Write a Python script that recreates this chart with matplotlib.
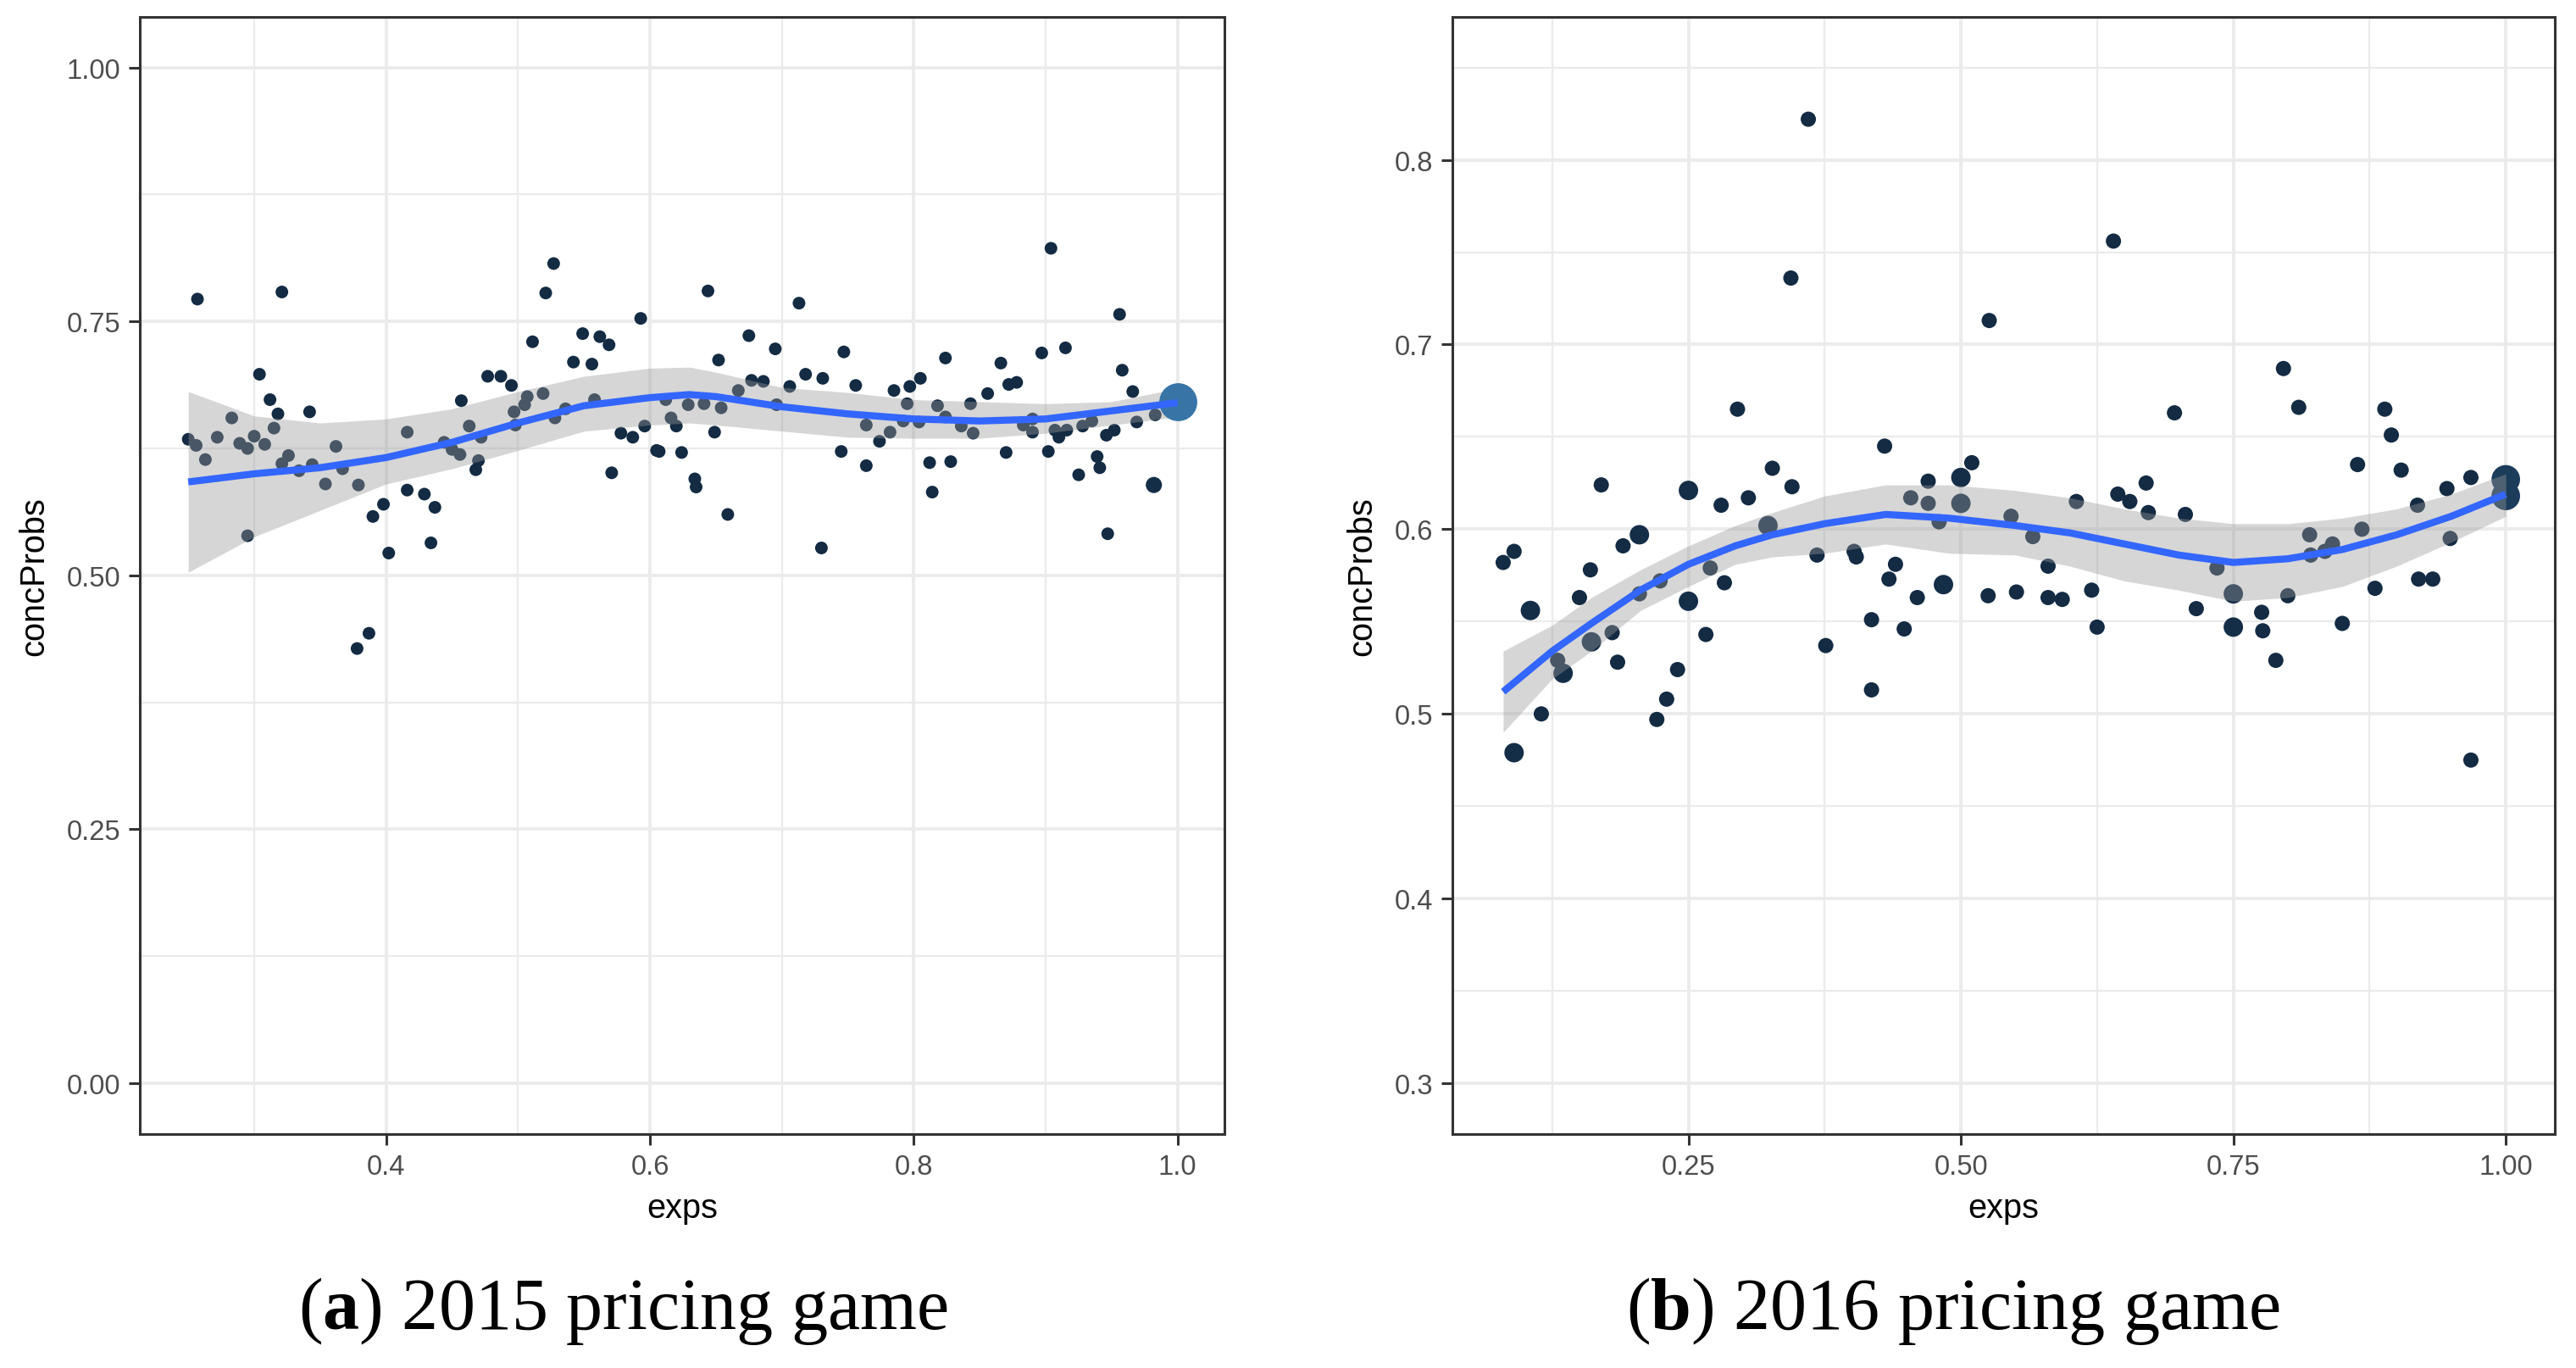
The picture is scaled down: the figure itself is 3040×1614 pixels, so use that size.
import numpy as np
import matplotlib
matplotlib.use("Agg")
import matplotlib.pyplot as plt
from matplotlib.ticker import FixedLocator

plt.rcParams['font.family'] = ['Liberation Sans', 'DejaVu Sans']
plt.rcParams['mathtext.fontset'] = 'custom'
plt.rcParams['mathtext.rm'] = 'Liberation Serif'
plt.rcParams['mathtext.bf'] = 'Liberation Serif:bold'

# ---------------- data: 2015 pricing game ----------------
x2015 = [0.257, 0.321, 0.527, 0.521, 0.644, 0.593, 0.511, 0.549, 0.562, 0.569,
         0.652, 0.542, 0.556, 0.304, 0.477, 0.487, 0.495, 0.312, 0.507, 0.519,
         0.457, 0.505, 0.318, 0.342, 0.283, 0.536, 0.497, 0.558, 0.528, 0.315,
         0.463, 0.498, 0.596, 0.578, 0.587, 0.649, 0.612, 0.629, 0.641, 0.654,
         0.616, 0.620, 0.250, 0.256, 0.272, 0.300, 0.289, 0.295, 0.308, 0.416,
         0.362, 0.472, 0.263, 0.326, 0.321, 0.334, 0.344, 0.367, 0.444, 0.450,
         0.456, 0.470, 0.468, 0.605, 0.607, 0.624, 0.571, 0.634, 0.635, 0.354,
         0.379, 0.416, 0.429, 0.398, 0.390, 0.437, 0.295, 0.434, 0.402, 0.387,
         0.378,
         0.904, 0.713, 0.956, 0.675, 0.695, 0.747, 0.824, 0.915, 0.897, 0.866,
         0.958, 0.718, 0.731, 0.677, 0.686, 0.756, 0.785, 0.797, 0.805, 0.872,
         0.878, 0.856, 0.966, 0.667, 0.706, 0.696, 0.795, 0.818, 0.843, 0.824,
         0.764, 0.792, 0.804, 0.782, 0.774, 0.836, 0.845, 0.890, 0.883, 0.890,
         0.907, 0.916, 0.910, 0.928, 0.935, 0.952, 0.946, 0.969, 0.983, 0.745,
         0.764, 0.812, 0.828, 0.870, 0.902, 0.939, 0.941, 0.925, 0.814, 0.982,
         0.659, 0.730, 0.947, 1.000]
y2015 = [0.772, 0.779, 0.807, 0.778, 0.780, 0.753, 0.730, 0.738, 0.735, 0.727,
         0.712, 0.710, 0.708, 0.698, 0.696, 0.696, 0.687, 0.673, 0.676, 0.679,
         0.672, 0.668, 0.659, 0.661, 0.655, 0.664, 0.661, 0.673, 0.655, 0.645,
         0.647, 0.648, 0.647, 0.640, 0.636, 0.641, 0.673, 0.668, 0.669, 0.665,
         0.655, 0.647, 0.634, 0.628, 0.636, 0.637, 0.630, 0.625, 0.629, 0.641,
         0.627, 0.636, 0.614, 0.618, 0.610, 0.603, 0.609, 0.605, 0.631, 0.624,
         0.619, 0.613, 0.604, 0.623, 0.622, 0.621, 0.601, 0.595, 0.587, 0.590,
         0.589, 0.584, 0.580, 0.570, 0.558, 0.567, 0.539, 0.532, 0.522, 0.443,
         0.428,
         0.822, 0.768, 0.757, 0.736, 0.723, 0.720, 0.714, 0.724, 0.719, 0.709,
         0.702, 0.698, 0.694, 0.692, 0.691, 0.687, 0.682, 0.686, 0.694, 0.688,
         0.690, 0.679, 0.681, 0.682, 0.686, 0.668, 0.669, 0.667, 0.669, 0.656,
         0.648, 0.652, 0.651, 0.641, 0.632, 0.647, 0.640, 0.654, 0.648, 0.641,
         0.643, 0.643, 0.636, 0.647, 0.652, 0.643, 0.638, 0.651, 0.658, 0.622,
         0.608, 0.611, 0.612, 0.621, 0.622, 0.617, 0.606, 0.599, 0.582, 0.589,
         0.560, 0.527, 0.541, 0.671]
# number of coinciding observations behind each point
n2015 = [1] * 81 + [1] * 59 + [2, 1, 1, 1, 23]

# smoother
sx2015 = [0.25, 0.30, 0.35, 0.40, 0.45, 0.50, 0.55, 0.60, 0.63, 0.65, 0.70,
          0.75, 0.80, 0.85, 0.90, 0.95, 1.00]
sy2015 = [0.592, 0.600, 0.606, 0.616, 0.631, 0.650, 0.667, 0.675, 0.678, 0.676,
          0.666, 0.659, 0.654, 0.652, 0.654, 0.662, 0.670]
slo2015 = [0.503, 0.538, 0.564, 0.590, 0.605, 0.623, 0.642, 0.648, 0.650, 0.648,
           0.642, 0.636, 0.635, 0.635, 0.640, 0.648, 0.656]
shi2015 = [0.681, 0.657, 0.650, 0.654, 0.664, 0.681, 0.696, 0.704, 0.705, 0.700,
           0.685, 0.680, 0.673, 0.671, 0.669, 0.671, 0.684]

# ---------------- data: 2016 pricing game ----------------
x2016 = [0.360, 0.344, 0.295, 0.430, 0.327, 0.170, 0.250, 0.345, 0.305, 0.280,
         0.323, 0.470, 0.454, 0.470, 0.480, 0.205, 0.190, 0.090, 0.080, 0.368,
         0.402, 0.404, 0.440, 0.434, 0.160, 0.270, 0.283, 0.224, 0.150, 0.205,
         0.250, 0.484, 0.460, 0.105, 0.418, 0.448, 0.266, 0.180, 0.161, 0.376,
         0.185, 0.130, 0.135, 0.240, 0.418, 0.230, 0.115, 0.221, 0.090,
         0.640, 0.526, 0.796, 0.696, 0.810, 0.889, 0.895, 0.864, 0.904, 0.510,
         0.500, 0.968, 0.946, 1.000, 1.000, 0.644, 0.655, 0.670, 0.672, 0.706,
         0.606, 0.546, 0.500, 0.566, 0.580, 0.919, 0.820, 0.868, 0.841, 0.834,
         0.821, 0.949, 0.735, 0.750, 0.800, 0.525, 0.551, 0.580, 0.593, 0.620,
         0.625, 0.716, 0.750, 0.776, 0.777, 0.789, 0.850, 0.880, 0.920, 0.933,
         0.968]
y2016 = [0.822, 0.736, 0.665, 0.645, 0.633, 0.624, 0.621, 0.623, 0.617, 0.613,
         0.602, 0.626, 0.617, 0.614, 0.604, 0.597, 0.591, 0.588, 0.582, 0.586,
         0.588, 0.585, 0.581, 0.573, 0.578, 0.579, 0.571, 0.572, 0.563, 0.565,
         0.561, 0.570, 0.563, 0.556, 0.551, 0.546, 0.543, 0.544, 0.539, 0.537,
         0.528, 0.529, 0.522, 0.524, 0.513, 0.508, 0.500, 0.497, 0.479,
         0.756, 0.713, 0.687, 0.663, 0.666, 0.665, 0.651, 0.635, 0.632, 0.636,
         0.628, 0.628, 0.622, 0.627, 0.618, 0.619, 0.615, 0.625, 0.609, 0.608,
         0.615, 0.607, 0.614, 0.596, 0.580, 0.613, 0.597, 0.600, 0.592, 0.588,
         0.586, 0.595, 0.579, 0.565, 0.564, 0.564, 0.566, 0.563, 0.562, 0.567,
         0.547, 0.557, 0.547, 0.555, 0.545, 0.529, 0.549, 0.568, 0.573, 0.573,
         0.475]
n2016 = [1, 1, 1, 1, 1, 1, 2, 1, 1, 1,
         2, 1, 1, 1, 1, 2, 1, 1, 1, 1,
         1, 1, 1, 1, 1, 1, 1, 1, 1, 1,
         2, 2, 1, 2, 1, 1, 1, 1, 2, 1,
         1, 1, 2, 1, 1, 1, 1, 1, 2,
         1, 1, 1, 1, 1, 1, 1, 1, 1, 1,
         2, 1, 1, 6, 6, 1, 1, 1, 1, 1,
         1, 1, 2, 1, 1, 1, 1, 1, 1, 1,
         1, 1, 1, 2, 1, 1, 1, 1, 1, 1,
         1, 1, 2, 1, 1, 1, 1, 1, 1, 1,
         1]

sx2016 = [0.080, 0.125, 0.161, 0.206, 0.250, 0.293, 0.327, 0.375, 0.431, 0.489,
          0.55, 0.60, 0.65, 0.70, 0.75, 0.80, 0.85, 0.90, 0.95, 1.00]
sy2016 = [0.512, 0.534, 0.549, 0.567, 0.581, 0.591, 0.597, 0.603, 0.608, 0.606,
          0.602, 0.598, 0.592, 0.586, 0.582, 0.584, 0.589, 0.597, 0.607, 0.619]
slo2016 = [0.490, 0.519, 0.534, 0.556, 0.569, 0.581, 0.585, 0.587, 0.592, 0.587,
           0.586, 0.580, 0.572, 0.567, 0.561, 0.563, 0.569, 0.580, 0.593, 0.607]
shi2016 = [0.534, 0.548, 0.563, 0.578, 0.591, 0.602, 0.609, 0.618, 0.624, 0.624,
           0.621, 0.617, 0.611, 0.606, 0.603, 0.603, 0.606, 0.611, 0.619, 0.630]

xt2015 = [0.4, 0.6, 0.8, 1.0]
xt2015_labels = ["0.4", "0.6", "0.8", "1.0"]
yt2015 = [0.0, 0.25, 0.5, 0.75, 1.0]
yt2015_labels = ["0.00", "0.25", "0.50", "0.75", "1.00"]
xt2016 = [0.25, 0.5, 0.75, 1.0]
xt2016_labels = ["0.25", "0.50", "0.75", "1.00"]
yt2016 = [0.3, 0.4, 0.5, 0.6, 0.7, 0.8]
yt2016_labels = ["0.3", "0.4", "0.5", "0.6", "0.7", "0.8"]
captions = [("a", "2015 pricing game"), ("b", "2016 pricing game")]

# ---------------- figure ----------------
W, H = 3040, 1615
fig = plt.figure(figsize=(W / 200, H / 200), dpi=200)

LOW = np.array([0x13, 0x2B, 0x43]) / 255
HIGH = np.array([0x56, 0xB1, 0xF7]) / 255


def colours(n):
    f = np.clip((np.asarray(n) - 1) / 40.0, 0, 1)[:, None]
    return LOW * (1 - f) + HIGH * f


def panel(rect, x, y, n, sx, sy, slo, shi, xlim, ylim, xt, xtl, yt, ytl,
          xminor, yminor, base, big_on_top):
    ax = fig.add_axes(rect)
    x = np.asarray(x); y = np.asarray(y); n = np.asarray(n)
    sizes = base * n ** 0.7
    cols = colours(n)
    small = n < 10
    ax.scatter(x[small], y[small], s=sizes[small], c=cols[small],
               linewidths=0, zorder=2)
    ax.scatter(x[~small], y[~small], s=sizes[~small], c=cols[~small],
               linewidths=0, zorder=3.5 if big_on_top else 2)
    ax.fill_between(sx, slo, shi, color='#999999', alpha=0.4, linewidth=0,
                    zorder=3)
    ax.plot(sx, sy, color='#3366FF', lw=3.0, zorder=4,
            solid_capstyle='butt')
    ax.set_xlim(*xlim)
    ax.set_ylim(*ylim)
    ax.xaxis.set_major_locator(FixedLocator(xt))
    ax.yaxis.set_major_locator(FixedLocator(yt))
    ax.set_xticklabels(xtl)
    ax.set_yticklabels(ytl)
    ax.xaxis.set_minor_locator(FixedLocator(xminor))
    ax.yaxis.set_minor_locator(FixedLocator(yminor))
    ax.grid(which='major', color='#EBEBEB', lw=1.4, zorder=0)
    ax.grid(which='minor', color='#EBEBEB', lw=0.8, zorder=0)
    ax.set_axisbelow(True)
    ax.tick_params(which='major', length=4.7, width=1.1, color='#333333',
                   labelsize=11.8, labelcolor='#4D4D4D', pad=3.6)
    ax.tick_params(which='minor', length=0)
    for sp in ax.spines.values():
        sp.set_color('#333333')
        sp.set_linewidth(1.1)
    ax.set_xlabel('exps', fontsize=14.3, color='black', labelpad=5)
    ax.set_ylabel('concProbs', fontsize=14.3, color='black', labelpad=7)
    return ax


bottom = 1 - 1339 / H
top = 1 - 20.7 / H
ax1 = panel([165 / W, bottom, (1445 - 165) / W, top - bottom],
            x2015, y2015, n2015, sx2015, sy2015, slo2015, shi2015,
            (0.2133, 1.0355), (-0.05, 1.05), xt2015, xt2015_labels,
            yt2015, yt2015_labels, [0.3, 0.5, 0.7, 0.9],
            [0.125, 0.375, 0.625, 0.875], 29, True)
ax2 = panel([1714 / W, bottom, (3015 - 1714) / W, top - bottom],
            x2016, y2016, n2016, sx2016, sy2016, slo2016, shi2016,
            (0.0334, 1.045), (0.2725, 0.8775), xt2016, xt2016_labels,
            yt2016, yt2016_labels, [0.125, 0.375, 0.625, 0.875],
            [0.35, 0.45, 0.55, 0.65, 0.75, 0.85], 42, False)

for (letter, title), cx in zip(captions, [735, 2305]):
    fig.text(cx / W, 1 - 1568 / H, r'($\mathbf{%s}$) %s' % (letter, title),
             ha='center', va='baseline', fontsize=31,
             family=['Liberation Serif', 'DejaVu Serif'])

fig.savefig('out.png', dpi=200)
